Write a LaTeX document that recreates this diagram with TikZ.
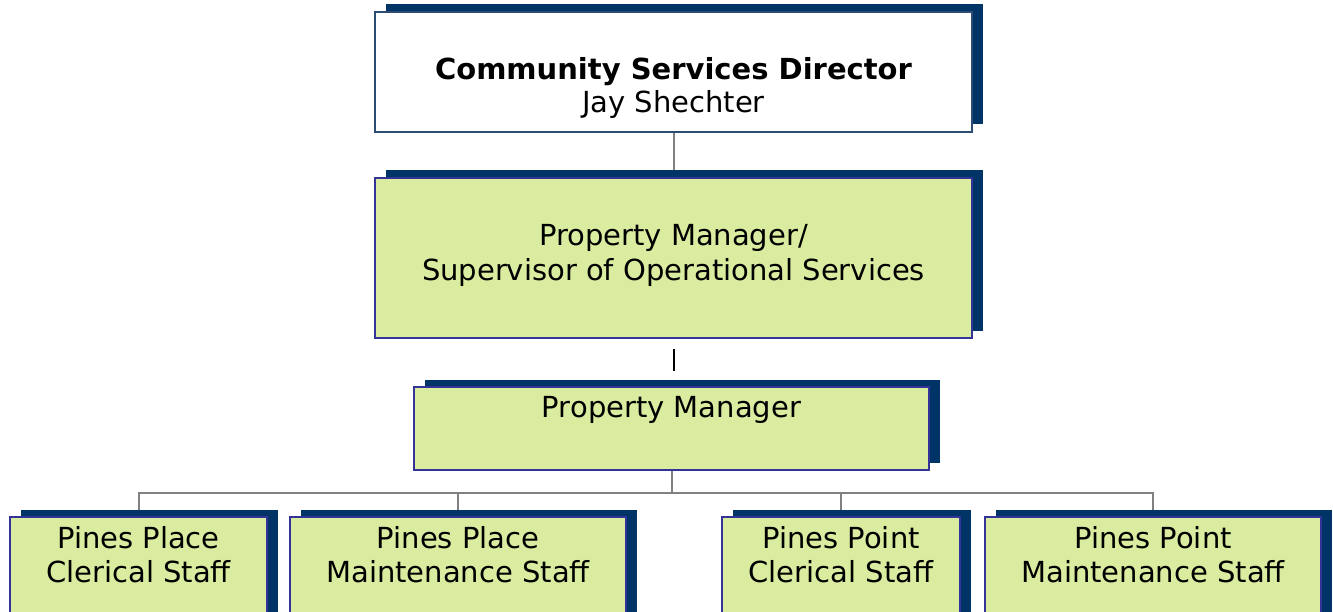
\documentclass[tikz,border=0pt]{standalone}
\usepackage{fontspec}
\setmainfont{DejaVu Sans}
\usetikzlibrary{shadows,backgrounds,calc}
\definecolor{navy}{RGB}{0,51,102}
\definecolor{boxline}{RGB}{51,51,153}
\definecolor{topline}{RGB}{45,75,115}
\definecolor{dotgreen}{RGB}{218,236,160}
\definecolor{linkgray}{RGB}{128,128,128}
\tikzset{
  orgbox/.style={rectangle, draw=boxline, line width=1.5pt, fill=dotgreen, inner sep=0pt,
    general shadow={shadow xshift=10.5pt, shadow yshift=7.5pt, fill=navy, draw=none}},
  topbox/.style={orgbox, fill=white, draw=topline, line width=1.2pt},
  lbl/.style={anchor=base, inner sep=0pt, font=\fontsize{29}{34}\selectfont},
  boldlbl/.style={anchor=base, inner sep=0pt, font=\fontsize{29}{34}\bfseries\selectfont},
  conn/.style={draw=linkgray, line width=2pt},
  gapline/.style={draw=black, line width=2pt},
}
\begin{document}
\begin{tikzpicture}[x=1pt,y=-1pt]
\useasboundingbox (0,0) rectangle (1333,612);
\clip (0,0) rectangle (1333,612);

% boxes
\node[topbox, minimum width=597pt, minimum height=120pt] (dir) at (673.5,72) {};
\node[orgbox, minimum width=597pt, minimum height=160pt] (sup) at (673.5,258) {};
\node[orgbox, minimum width=515pt, minimum height=83pt] (pm) at (671.5,428.5) {};
\node[orgbox, minimum width=257pt, minimum height=110pt] (ppc) at (138.5,572) {};
\node[orgbox, minimum width=336pt, minimum height=110pt] (ppm) at (458,572) {};
\node[orgbox, minimum width=238pt, minimum height=110pt] (ptc) at (841,572) {};
\node[orgbox, minimum width=336pt, minimum height=110pt] (ptm) at (1153,572) {};

% texts
\node[boldlbl] (dirt) at (673.5,80) {Community Services Director};
\node[lbl] (dirn) at (673.5,113) {Jay Shechter};
\node[lbl] (supa) at (673.5,246) {Property Manager/};
\node[lbl] (supb) at (673.5,280) {Supervisor of Operational Services};
\node[lbl] (pmt) at (671.5,417) {Property Manager};
\node[lbl] (ppca) at (138.5,548) {Pines Place};
\node[lbl] (ppcb) at (138.5,582) {Clerical Staff};
\node[lbl] (ppma) at (458,548) {Pines Place};
\node[lbl] (ppmb) at (458,582) {Maintenance Staff};
\node[lbl] (ptca) at (841,548) {Pines Point};
\node[lbl] (ptcb) at (841,582) {Clerical Staff};
\node[lbl] (ptma) at (1153,548) {Pines Point};
\node[lbl] (ptmb) at (1153,582) {Maintenance Staff};

% connectors
\begin{pgfonlayer}{background}
  \draw[conn] (dir.south) -- (sup.north);
  \draw[gapline] ($(sup.south)+(0,10)$) -- ($(sup.south |- pm.north)+(0,-15)$);
  \coordinate (bus) at ($(pm.south)+(0,22)$);
  \draw[conn] (pm.south) -- (bus);
  \foreach \n in {ppc,ppm,ptc,ptm}
    \draw[conn] (bus) -| (\n.north);
\end{pgfonlayer}
\end{tikzpicture}
\end{document}
